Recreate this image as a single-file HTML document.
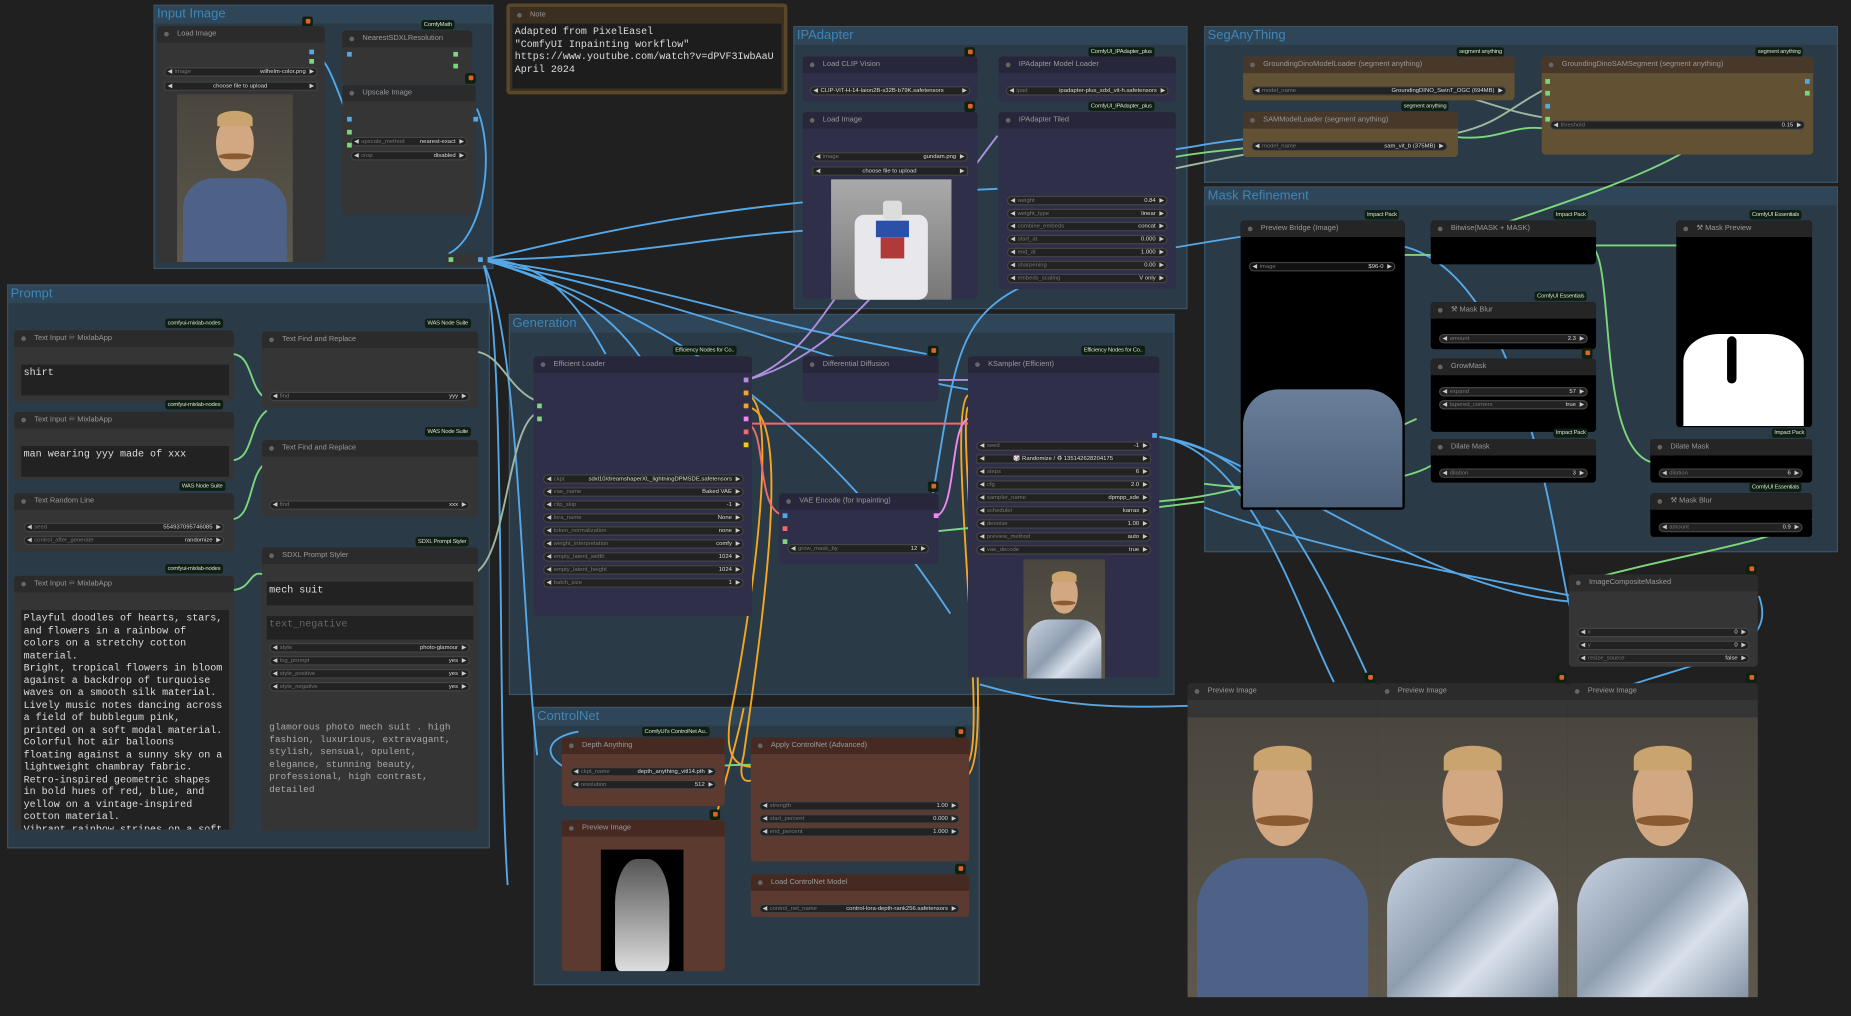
<!DOCTYPE html>
<html><head><meta charset="utf-8">
<style>
html,body{margin:0;padding:0;background:#202020;overflow:hidden;}
#w{position:absolute;left:0;top:0;width:1568px;height:861px;transform:scale(1.18049,1.18002);transform-origin:0 0;font-family:"Liberation Sans",sans-serif;color:#aaa;}
#w>*{z-index:2}
#w>.g{z-index:0}
#w>svg{z-index:1}
.g{position:absolute;background:#2a3a47;border:1px solid #3a5468;box-sizing:border-box;}
.g>.gt{height:15px;background:#2e4657;color:#3f86b8;font-size:11px;line-height:15px;padding-left:2px;white-space:nowrap;}
.n{position:absolute;background:#353535;border-radius:3px;box-sizing:border-box;}
.n>.t{height:14px;background:#2b2b2b;border-radius:3px 3px 0 0;font-size:6.3px;line-height:14px;color:#999;padding-left:17px;position:relative;white-space:nowrap;}
.n>.t:before{content:"";position:absolute;left:6px;top:5px;width:4px;height:4px;border-radius:50%;background:#666;}
.pu{background:#2f2f4a}.pu>.t{background:#27263a}
.br{background:#5c3a30}.br>.t{background:#462a22}
.ol{background:#625233}.ol>.t{background:#47382a}
.bk{background:#000}.bk>.t{background:#252525}
.wd{position:absolute;height:8px;background:#222;border:1px solid #444;border-radius:5px;box-sizing:border-box;font-size:5px;line-height:7px;color:#777;padding:0 9px 0 8px;white-space:nowrap;overflow:hidden;}
.wd:before{content:"◀";position:absolute;left:2px;font-size:5px;color:#ccc}
.wd:after{content:"▶";position:absolute;right:2px;top:0;font-size:5px;color:#ccc}
.wd b{float:right;color:#ddd;font-weight:normal}
.bd{position:absolute;background:#0e1f12;color:#ddd;font-size:5px;padding:1px 2px;border-radius:2px;white-space:nowrap;letter-spacing:-0.2px}
.fx{position:absolute;width:9px;height:9px;background:#10200f;border-radius:2px;}
.fx:after{content:"";position:absolute;left:3px;top:2px;width:4px;height:4px;background:#e0622a;border-radius:1px}
.p{position:absolute;width:4px;height:4px;}
.tx{position:absolute;background:#222;font-family:"Liberation Mono",monospace;font-size:8.5px;color:#ddd;line-height:10.5px;box-sizing:border-box;padding:2px 2px;overflow:hidden;white-space:pre;}
.por{position:absolute;overflow:hidden;background:linear-gradient(#4a463e,#5e584c);}
.por .f{position:absolute;left:34%;top:14%;width:32%;height:32%;border-radius:45% 45% 50% 50%;background:#d2a883;}
.por .h{position:absolute;left:35%;top:10%;width:30%;height:9%;border-radius:50% 50% 0 0;background:#c9a46e;}
.por .u{position:absolute;left:5%;top:50%;width:90%;height:60%;border-radius:30% 30% 0 0;background:#4d6286;}
.por .m{position:absolute;left:36%;top:35%;width:28%;height:4%;background:#8a5a30;border-radius:50%}
.por.wh .u{background:linear-gradient(135deg,#c8d3e0,#8e9db0 40%,#d8e0ea 60%,#6f7f95)}
</style></head><body><div id="w">

<svg style="position:absolute;left:0;top:0" width="1568" height="861">
<g fill="none" stroke-width="1.6">
<path d="M408,220 C450,220 480,240 513,300" stroke="#55a8e8"/>
<path d="M408,220 C520,220 600,200 690,195" stroke="#55a8e8"/>
<path d="M408,220 C560,240 620,270 785,300" stroke="#55a8e8"/>
<path d="M408,220 C600,260 700,310 820,330" stroke="#55a8e8"/>
<path d="M408,220 C560,260 700,360 805,520" stroke="#55a8e8"/>
<path d="M408,220 C520,250 540,300 560,330" stroke="#55a8e8"/>
<path d="M408,220 C440,280 440,500 455,640" stroke="#55a8e8"/>
<path d="M408,220 C430,270 420,600 430,750" stroke="#55a8e8"/>
<path d="M408,220 C500,200 600,170 845,160" stroke="#55a8e8"/>
<path d="M984,128 C1010,125 1030,120 1055,118" stroke="#55a8e8"/>
<path d="M1055,200 C800,240 820,250 790,420" stroke="#55a8e8"/>
<path d="M980,370 C1060,380 1100,520 1130,578" stroke="#55a8e8"/>
<path d="M980,370 C1060,380 1100,440 1170,598" stroke="#55a8e8"/>
<path d="M980,370 C1060,380 1200,500 1332,510" stroke="#55a8e8"/>
<path d="M830,580 C900,600 950,600 1010,598" stroke="#55a8e8"/>
<path d="M1490,505 C1510,560 1420,560 1335,598" stroke="#55a8e8"/>
<path d="M1185,208 C1300,230 1320,500 1332,520" stroke="#55a8e8"/>
<path d="M1020,430 C1100,460 1200,480 1332,505" stroke="#55a8e8"/>
<path d="M404,92 C420,130 410,200 380,215" stroke="#55a8e8"/>
<path d="M263,44 C280,48 285,80 296,100" stroke="#55a8e8"/>
<path d="M632,322 C700,300 720,200 740,240" stroke="#b08ee0"/>
<path d="M632,322 C720,300 780,200 845,115" stroke="#b08ee0"/>
<path d="M794,322 L820,322" stroke="#b08ee0"/>
<path d="M632,335 C660,335 640,500 620,600 C610,650 630,650 640,650" stroke="#f5a623"/>
<path d="M632,345 C670,345 650,500 630,640 C625,660 630,665 640,660" stroke="#f5a623"/>
<path d="M818,648 C840,640 800,350 820,335" stroke="#f5a623"/>
<path d="M818,658 C845,650 810,360 820,345" stroke="#f5a623"/>
<path d="M630,600 C620,650 600,700 600,740" stroke="#f5a623"/>
<path d="M632,359 L820,359" stroke="#f26a6a"/>
<path d="M632,359 C650,360 640,430 662,436" stroke="#f26a6a"/>
<path d="M794,437 C810,430 805,360 820,355" stroke="#ee88ee"/>
<path d="M403,298 C425,300 430,330 455,340" stroke="#9fb8a0"/>
<path d="M403,485 C430,470 430,360 455,350" stroke="#9fb8a0"/>
<path d="M196,300 C215,300 210,330 226,338" stroke="#7cd67c"/>
<path d="M196,390 C215,390 210,360 226,348" stroke="#7cd67c"/>
<path d="M196,440 C215,440 210,400 226,392" stroke="#7cd67c"/>
<path d="M196,500 C215,500 210,480 226,488" stroke="#7cd67c"/>
<path d="M984,135 C1010,130 1030,128 1060,125" stroke="#7cd67c"/>
<path d="M984,145 C1010,140 1030,135 1060,130" stroke="#9fb8a0"/>
<path d="M1235,80 C1270,90 1280,95 1310,100" stroke="#9fb8a0"/>
<path d="M1233,113 C1270,105 1280,90 1310,75" stroke="#9fb8a0"/>
<path d="M1233,116 C1270,120 1280,105 1310,109" stroke="#7cd67c"/>
<path d="M1440,120 C1400,150 1300,180 1218,208" stroke="#7cd67c"/>
<path d="M1187,216 L1218,216" stroke="#7cd67c"/>
<path d="M1346,208 L1425,208 M1346,208 C1370,210 1350,380 1400,392" stroke="#7cd67c"/>
<path d="M1535,440 C1500,460 1420,470 1332,495" stroke="#7cd67c"/>
<path d="M1020,410 C1100,420 1200,410 1218,390" stroke="#7cd67c"/>
<path d="M980,425 C1050,420 1100,400 1200,355" stroke="#7cd67c"/>
<path d="M795,450 C900,440 980,430 1020,425" stroke="#7cd67c"/>
<path d="M590,650 C600,650 610,648 640,648" stroke="#7cd67c"/>
<path d="M478,650 C460,640 462,625 490,620" stroke="#55a8e8"/>
</g></svg>

<!-- Input Image -->
<div class="g" style="left:130px;top:4px;width:288px;height:224px"><div class="gt">Input Image</div></div>
<div class="fx" style="left:256px;top:14px"></div>
<div class="n" style="left:133px;top:22px;width:142px;height:200px"><div class="t">Load Image</div>
<div class="wd" style="left:6px;top:35px;width:130px">image<b>wilhelm-color.png</b></div>
<div class="wd" style="left:6px;top:47px;width:130px;border-radius:0;text-align:center;color:#ddd">choose file to upload</div></div>
<div class="p" style="left:262px;top:42px;background:#55a8e8"></div><div class="p" style="left:262px;top:50px;background:#7cd67c"></div>
<div class="por" style="left:150px;top:80px;width:98px;height:142px"><div class="u"></div><div class="f"></div><div class="h"></div><div class="m"></div></div>
<div class="bd" style="left:357px;top:17px">ComfyMath</div>
<div class="n" style="left:290px;top:26px;width:110px;height:45px"><div class="t">NearestSDXLResolution</div></div>
<div class="p" style="left:294px;top:44px;background:#55a8e8"></div><div class="p" style="left:384px;top:44px;background:#7cd67c"></div><div class="p" style="left:384px;top:54px;background:#7cd67c"></div>
<div class="fx" style="left:394px;top:62px"></div>
<div class="n" style="left:290px;top:72px;width:113px;height:110px"><div class="t">Upscale Image</div>
<div class="wd" style="left:7px;top:44px;width:99px">upscale_method<b>nearest-exact</b></div>
<div class="wd" style="left:7px;top:56px;width:99px">crop<b>disabled</b></div></div>
<div class="p" style="left:294px;top:99px;background:#55a8e8"></div><div class="p" style="left:294px;top:110px;background:#7cd67c"></div><div class="p" style="left:294px;top:121px;background:#7cd67c"></div><div class="p" style="left:401px;top:99px;background:#55a8e8"></div>
<div class="n" style="left:377px;top:215px;width:36px;height:10px"></div>
<div class="p" style="left:380px;top:218px;background:#7cd67c"></div><div class="p" style="left:405px;top:218px;background:#55a8e8"></div>

<!-- Note -->
<div class="n" style="left:429px;top:3px;width:238px;height:77px;background:#3a2f20;border:3px solid #5a4628"><div class="t" style="background:#3a2f20">Note</div>
<div class="tx" style="left:2px;top:14px;width:228px;height:55px;background:#1d1d1d;font-size:8.5px;line-height:10.5px">Adapted from PixelEasel
"ComfyUI Inpainting workflow"
https://www.youtube.com/watch?v=dPVF3IwbAaU
April 2024</div></div>

<!-- Prompt -->
<div class="g" style="left:6px;top:241px;width:409px;height:478px"><div class="gt">Prompt</div></div>
<div class="bd" style="left:140px;top:270px">comfyui-mixlab-nodes</div>
<div class="n" style="left:12px;top:280px;width:186px;height:60px"><div class="t">Text Input ♾ MixlabApp</div></div>
<div class="tx" style="left:18px;top:309px;width:176px;height:26px">shirt</div>
<div class="bd" style="left:140px;top:339px">comfyui-mixlab-nodes</div>
<div class="n" style="left:12px;top:349px;width:186px;height:58px"><div class="t">Text Input ♾ MixlabApp</div></div>
<div class="tx" style="left:18px;top:378px;width:176px;height:26px">man wearing yyy made of xxx</div>
<div class="bd" style="left:152px;top:408px">WAS Node Suite</div>
<div class="n" style="left:12px;top:418px;width:186px;height:50px"><div class="t">Text Random Line</div>
<div class="wd" style="left:8px;top:25px;width:170px">seed<b>554937095746085</b></div>
<div class="wd" style="left:8px;top:36px;width:170px">control_after_generate<b>randomize</b></div></div>
<div class="bd" style="left:140px;top:478px">comfyui-mixlab-nodes</div>
<div class="n" style="left:12px;top:488px;width:186px;height:215px"><div class="t">Text Input ♾ MixlabApp</div></div>
<div class="tx" style="left:18px;top:517px;width:176px;height:186px">Playful doodles of hearts, stars,
and flowers in a rainbow of
colors on a stretchy cotton
material.
Bright, tropical flowers in bloom
against a backdrop of turquoise
waves on a smooth silk material.
Lively music notes dancing across
a field of bubblegum pink,
printed on a soft modal material.
Colorful hot air balloons
floating against a sunny sky on a
lightweight chambray fabric.
Retro-inspired geometric shapes
in bold hues of red, blue, and
yellow on a vintage-inspired
cotton material.
Vibrant rainbow stripes on a soft</div>
<div class="bd" style="left:360px;top:270px">WAS Node Suite</div>
<div class="n" style="left:222px;top:281px;width:183px;height:65px"><div class="t">Text Find and Replace</div>
<div class="wd" style="left:6px;top:51px;width:170px">find<b>yyy</b></div></div>
<div class="bd" style="left:360px;top:362px">WAS Node Suite</div>
<div class="n" style="left:222px;top:373px;width:183px;height:65px"><div class="t">Text Find and Replace</div>
<div class="wd" style="left:6px;top:51px;width:170px">find<b>xxx</b></div></div>
<div class="bd" style="left:352px;top:455px">SDXL Prompt Styler</div>
<div class="n" style="left:222px;top:464px;width:183px;height:240px"><div class="t">SDXL Prompt Styler</div>
<div class="wd" style="left:6px;top:81px;width:170px">style<b>photo-glamour</b></div>
<div class="wd" style="left:6px;top:92px;width:170px">log_prompt<b>yes</b></div>
<div class="wd" style="left:6px;top:103px;width:170px">style_positive<b>yes</b></div>
<div class="wd" style="left:6px;top:114px;width:170px">style_negative<b>yes</b></div></div>
<div class="tx" style="left:226px;top:493px;width:175px;height:20px">mech suit</div>
<div class="tx" style="left:226px;top:522px;width:175px;height:20px;color:#666">text_negative</div>
<div class="tx" style="left:226px;top:610px;width:175px;height:94px;background:#353535;color:#aaa;font-size:8px;line-height:10.5px">glamorous photo mech suit . high
fashion, luxurious, extravagant,
stylish, sensual, opulent,
elegance, stunning beauty,
professional, high contrast,
detailed</div>

<!-- IPAdapter -->
<div class="g" style="left:672px;top:22px;width:334px;height:240px"><div class="gt">IPAdapter</div></div>
<div class="fx" style="left:817px;top:40px"></div>
<div class="n pu" style="left:680px;top:48px;width:148px;height:38px"><div class="t">Load CLIP Vision</div>
<div class="wd" style="left:6px;top:25px;width:136px;color:#ddd">CLIP-ViT-H-14-laion2B-s32B-b79K.safetensors</div></div>
<div class="fx" style="left:817px;top:86px"></div>
<div class="n pu" style="left:680px;top:95px;width:148px;height:158px"><div class="t">Load Image</div>
<div class="wd" style="left:8px;top:34px;width:132px">image<b>gundam.png</b></div>
<div class="wd" style="left:8px;top:46px;width:132px;border-radius:0;text-align:center;color:#ddd">choose file to upload</div></div>
<div style="position:absolute;left:704px;top:152px;width:102px;height:102px;background:linear-gradient(#aaa,#777)">
<div style="position:absolute;left:20px;top:30px;width:62px;height:72px;background:#e8e8ec;border-radius:8px"></div>
<div style="position:absolute;left:38px;top:35px;width:28px;height:14px;background:#2a50a8"></div>
<div style="position:absolute;left:42px;top:49px;width:20px;height:18px;background:#b03a3a"></div>
<div style="position:absolute;left:44px;top:18px;width:16px;height:16px;background:#ddd;border-radius:3px"></div></div>
<div class="bd" style="left:922px;top:40px">ComfyUI_IPAdapter_plus</div>
<div class="n pu" style="left:846px;top:48px;width:150px;height:38px"><div class="t">IPAdapter Model Loader</div>
<div class="wd" style="left:6px;top:25px;width:138px">ipad<b>ipadapter-plus_sdxl_vit-h.safetensors</b></div></div>
<div class="bd" style="left:922px;top:86px">ComfyUI_IPAdapter_plus</div>
<div class="n pu" style="left:846px;top:95px;width:150px;height:150px"><div class="t">IPAdapter Tiled</div>
<div class="wd" style="left:7px;top:71px;width:136px">weight<b>0.84</b></div>
<div class="wd" style="left:7px;top:82px;width:136px">weight_type<b>linear</b></div>
<div class="wd" style="left:7px;top:93px;width:136px">combine_embeds<b>concat</b></div>
<div class="wd" style="left:7px;top:104px;width:136px">start_at<b>0.000</b></div>
<div class="wd" style="left:7px;top:115px;width:136px">end_at<b>1.000</b></div>
<div class="wd" style="left:7px;top:126px;width:136px">sharpening<b>0.00</b></div>
<div class="wd" style="left:7px;top:137px;width:136px">embeds_scaling<b>V only</b></div></div>

<!-- SegAnything -->
<div class="g" style="left:1020px;top:22px;width:537px;height:133px"><div class="gt">SegAnyThing</div></div>
<div class="bd" style="left:1234px;top:40px;background:#0e1f12">segment anything</div>
<div class="n ol" style="left:1053px;top:48px;width:230px;height:37px"><div class="t">GroundingDinoModelLoader (segment anything)</div>
<div class="wd" style="left:7px;top:25px;width:216px">model_name<b>GroundingDINO_SwinT_OGC (694MB)</b></div></div>
<div class="bd" style="left:1187px;top:86px">segment anything</div>
<div class="n ol" style="left:1053px;top:95px;width:182px;height:38px"><div class="t">SAMModelLoader (segment anything)</div>
<div class="wd" style="left:7px;top:25px;width:166px">model_name<b>sam_vit_b (375MB)</b></div></div>
<div class="bd" style="left:1487px;top:40px">segment anything</div>
<div class="n ol" style="left:1306px;top:48px;width:230px;height:83px"><div class="t">GroundingDinoSAMSegment (segment anything)</div>
<div class="wd" style="left:7px;top:54px;width:216px">threshold<b>0.15</b></div></div>
<div class="p" style="left:1309px;top:67px;background:#7cd67c"></div><div class="p" style="left:1309px;top:77px;background:#7cd67c"></div><div class="p" style="left:1309px;top:88px;background:#55a8e8"></div><div class="p" style="left:1309px;top:99px;background:#7cd67c"></div><div class="p" style="left:1529px;top:67px;background:#55a8e8"></div><div class="p" style="left:1529px;top:77px;background:#7cd67c"></div>

<!-- Mask Refinement -->
<div class="g" style="left:1020px;top:158px;width:537px;height:310px"><div class="gt">Mask Refinement</div></div>
<div class="bd" style="left:1156px;top:178px">Impact Pack</div>
<div class="n bk" style="left:1051px;top:187px;width:139px;height:245px"><div class="t">Preview Bridge (Image)</div>
<div class="wd" style="left:7px;top:35px;width:124px;background:#111">image<b>$96-0</b></div></div>
<div style="position:absolute;left:1053px;top:330px;width:135px;height:100px;background:linear-gradient(#6a7f9a,#4a5e78);border-radius:30px 30px 0 0"></div>
<div class="bd" style="left:1316px;top:178px">Impact Pack</div>
<div class="n bk" style="left:1212px;top:187px;width:140px;height:37px"><div class="t">Bitwise(MASK + MASK)</div></div>
<div class="bd" style="left:1300px;top:247px">ComfyUI Essentials</div>
<div class="n bk" style="left:1212px;top:256px;width:140px;height:40px"><div class="t">⚒ Mask Blur</div>
<div class="wd" style="left:7px;top:27px;width:126px">amount<b>2.3</b></div></div>
<div class="fx" style="left:1340px;top:295px"></div>
<div class="n bk" style="left:1212px;top:304px;width:140px;height:62px"><div class="t">GrowMask</div>
<div class="wd" style="left:7px;top:24px;width:126px">expand<b>57</b></div>
<div class="wd" style="left:7px;top:35px;width:126px">tapered_corners<b>true</b></div></div>
<div class="bd" style="left:1316px;top:363px">Impact Pack</div>
<div class="n bk" style="left:1212px;top:372px;width:140px;height:37px"><div class="t">Dilate Mask</div>
<div class="wd" style="left:7px;top:25px;width:126px">dilation<b>3</b></div></div>
<div class="bd" style="left:1482px;top:178px">ComfyUI Essentials</div>
<div class="n bk" style="left:1420px;top:187px;width:115px;height:175px"><div class="t">⚒ Mask Preview</div></div>
<div style="position:absolute;left:1426px;top:283px;width:102px;height:78px;background:#fff;border-radius:30% 30% 0 0"></div>
<div style="position:absolute;left:1463px;top:285px;width:8px;height:40px;background:#000;border-radius:4px"></div>
<div class="bd" style="left:1501px;top:363px">Impact Pack</div>
<div class="n bk" style="left:1398px;top:372px;width:137px;height:37px"><div class="t">Dilate Mask</div>
<div class="wd" style="left:7px;top:25px;width:122px">dilation<b>6</b></div></div>
<div class="bd" style="left:1482px;top:409px">ComfyUI Essentials</div>
<div class="n bk" style="left:1398px;top:418px;width:137px;height:37px"><div class="t">⚒ Mask Blur</div>
<div class="wd" style="left:7px;top:25px;width:122px">amount<b>0.9</b></div></div>

<!-- Generation -->
<div class="g" style="left:431px;top:266px;width:564px;height:323px"><div class="gt">Generation</div></div>
<div class="bd" style="left:570px;top:293px">Efficiency Nodes for Co..</div>
<div class="n pu" style="left:452px;top:302px;width:185px;height:220px"><div class="t">Efficient Loader</div>
<div class="wd" style="left:8px;top:100px;width:170px">ckpt<b>sdxl10/dreamshaperXL_lightningDPMSDE.safetensors</b></div>
<div class="wd" style="left:8px;top:111px;width:170px">vae_name<b>Baked VAE</b></div>
<div class="wd" style="left:8px;top:122px;width:170px">clip_skip<b>-1</b></div>
<div class="wd" style="left:8px;top:133px;width:170px">lora_name<b>None</b></div>
<div class="wd" style="left:8px;top:144px;width:170px">token_normalization<b>none</b></div>
<div class="wd" style="left:8px;top:155px;width:170px">weight_interpretation<b>comfy</b></div>
<div class="wd" style="left:8px;top:166px;width:170px">empty_latent_width<b>1024</b></div>
<div class="wd" style="left:8px;top:177px;width:170px">empty_latent_height<b>1024</b></div>
<div class="wd" style="left:8px;top:188px;width:170px">batch_size<b>1</b></div></div>
<div class="p" style="left:630px;top:320px;background:#b08ee0"></div><div class="p" style="left:630px;top:331px;background:#f5a623"></div><div class="p" style="left:630px;top:342px;background:#f5a623"></div><div class="p" style="left:630px;top:353px;background:#ee88ee"></div><div class="p" style="left:630px;top:364px;background:#f26a6a"></div><div class="p" style="left:630px;top:375px;background:#f5d000"></div>
<div class="p" style="left:455px;top:342px;background:#7cd67c"></div><div class="p" style="left:455px;top:353px;background:#7cd67c"></div>
<div class="fx" style="left:786px;top:293px"></div>
<div class="n pu" style="left:680px;top:302px;width:115px;height:38px"><div class="t">Differential Diffusion</div></div>
<div class="fx" style="left:786px;top:408px"></div>
<div class="n pu" style="left:660px;top:418px;width:135px;height:60px"><div class="t">VAE Encode (for Inpainting)</div>
<div class="wd" style="left:7px;top:43px;width:120px">grow_mask_by<b>12</b></div></div>
<div class="p" style="left:663px;top:435px;background:#55a8e8"></div><div class="p" style="left:663px;top:446px;background:#f26a6a"></div><div class="p" style="left:663px;top:457px;background:#7cd67c"></div><div class="p" style="left:791px;top:435px;background:#ee88ee"></div>
<div class="bd" style="left:916px;top:293px">Efficiency Nodes for Co..</div>
<div class="n pu" style="left:820px;top:302px;width:162px;height:272px"><div class="t">KSampler (Efficient)</div>
<div class="wd" style="left:7px;top:72px;width:148px">seed<b>-1</b></div>
<div class="wd" style="left:7px;top:83px;width:148px;border-radius:0;text-align:center;color:#ddd">🎲 Randomize / ♻ 135142628204175</div>
<div class="wd" style="left:7px;top:94px;width:148px">steps<b>6</b></div>
<div class="wd" style="left:7px;top:105px;width:148px">cfg<b>2.0</b></div>
<div class="wd" style="left:7px;top:116px;width:148px">sampler_name<b>dpmpp_sde</b></div>
<div class="wd" style="left:7px;top:127px;width:148px">scheduler<b>karras</b></div>
<div class="wd" style="left:7px;top:138px;width:148px">denoise<b>1.00</b></div>
<div class="wd" style="left:7px;top:149px;width:148px">preview_method<b>auto</b></div>
<div class="wd" style="left:7px;top:160px;width:148px">vae_decode<b>true</b></div></div>
<div class="por wh" style="left:867px;top:474px;width:69px;height:101px"><div class="u"></div><div class="f"></div><div class="h"></div><div class="m"></div></div>
<div class="p" style="left:976px;top:367px;background:#55a8e8"></div>

<!-- ControlNet -->
<div class="g" style="left:452px;top:599px;width:378px;height:236px"><div class="gt">ControlNet</div></div>
<div class="bd" style="left:544px;top:616px">ComfyUI's ControlNet Au..</div>
<div class="n br" style="left:476px;top:625px;width:138px;height:58px"><div class="t">Depth Anything</div>
<div class="wd" style="left:7px;top:25px;width:124px">ckpt_name<b>depth_anything_vitl14.pth</b></div>
<div class="wd" style="left:7px;top:36px;width:124px">resolution<b>512</b></div></div>
<div class="fx" style="left:601px;top:686px"></div>
<div class="n br" style="left:476px;top:695px;width:138px;height:128px"><div class="t">Preview Image</div></div>
<div style="position:absolute;left:509px;top:720px;width:70px;height:103px;background:#000"><div style="position:absolute;left:12px;top:8px;width:46px;height:95px;background:linear-gradient(#555,#ddd);border-radius:40% 40% 10% 10%"></div></div>
<div class="fx" style="left:809px;top:616px"></div>
<div class="n br" style="left:636px;top:625px;width:185px;height:105px"><div class="t">Apply ControlNet (Advanced)</div>
<div class="wd" style="left:7px;top:54px;width:170px">strength<b>1.00</b></div>
<div class="wd" style="left:7px;top:65px;width:170px">start_percent<b>0.000</b></div>
<div class="wd" style="left:7px;top:76px;width:170px">end_percent<b>1.000</b></div></div>
<div class="fx" style="left:809px;top:732px"></div>
<div class="n br" style="left:636px;top:741px;width:185px;height:36px"><div class="t">Load ControlNet Model</div>
<div class="wd" style="left:7px;top:25px;width:170px">control_net_name<b>control-lora-depth-rank256.safetensors</b></div></div>

<!-- Right bottom -->
<div class="fx" style="left:1479px;top:478px"></div>
<div class="n" style="left:1329px;top:487px;width:160px;height:78px"><div class="t">ImageCompositeMasked</div>
<div class="wd" style="left:7px;top:45px;width:146px">x<b>0</b></div>
<div class="wd" style="left:7px;top:56px;width:146px">y<b>0</b></div>
<div class="wd" style="left:7px;top:67px;width:146px">resize_source<b>false</b></div></div>
<div class="fx" style="left:1156px;top:570px"></div><div class="fx" style="left:1318px;top:570px"></div><div class="fx" style="left:1479px;top:570px"></div>
<div class="n" style="left:1006px;top:579px;width:161px;height:266px"><div class="t">Preview Image</div></div>
<div class="n" style="left:1167px;top:579px;width:161px;height:266px"><div class="t">Preview Image</div></div>
<div class="n" style="left:1328px;top:579px;width:161px;height:266px"><div class="t">Preview Image</div></div>
<div class="por" style="left:1006px;top:608px;width:161px;height:237px"><div class="u"></div><div class="f"></div><div class="h"></div><div class="m"></div></div>
<div class="por wh" style="left:1167px;top:608px;width:161px;height:237px"><div class="u"></div><div class="f"></div><div class="h"></div><div class="m"></div></div>
<div class="por wh" style="left:1328px;top:608px;width:161px;height:237px"><div class="u"></div><div class="f"></div><div class="h"></div><div class="m"></div></div>

</div></body></html>
